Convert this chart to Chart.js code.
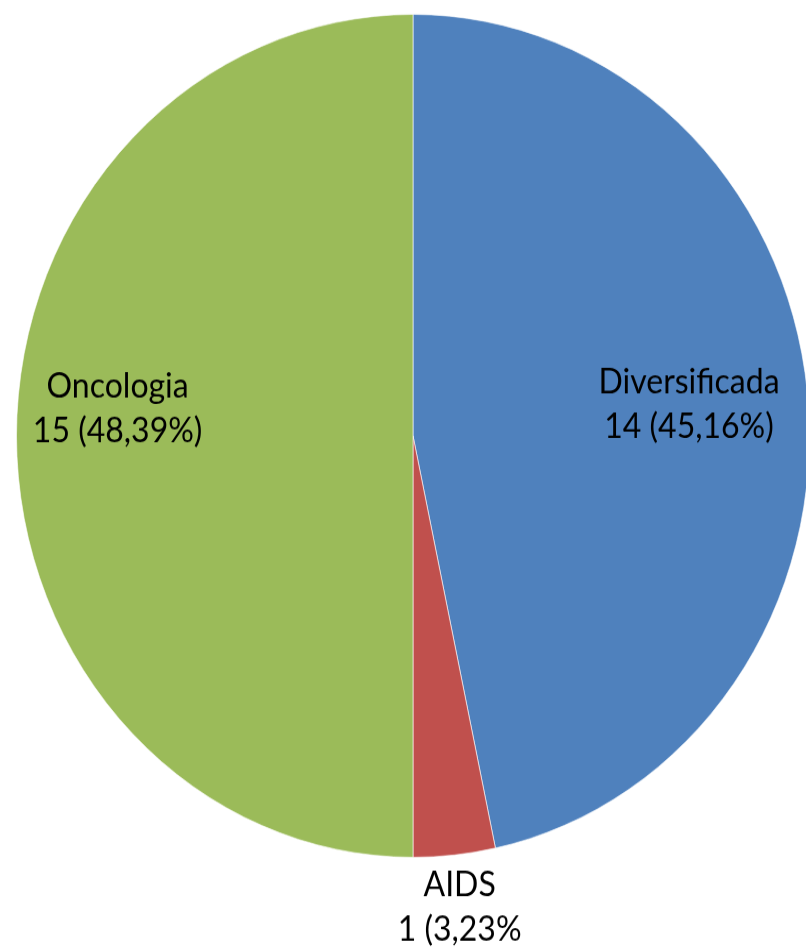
<!DOCTYPE html>
<html>
<head>
<meta charset="utf-8">
<script src="https://cdn.jsdelivr.net/npm/chart.js@4/dist/chart.umd.min.js"></script>
<style>
  html, body { margin: 0; padding: 0; background: #fff; }
  #wrap { width: 806px; height: 950px; overflow: hidden; position: relative; }
  /* the reference pie is slightly taller than wide, so stretch vertically */
  #stage { transform: scaleY(1.063); transform-origin: 0 0; width: 830px; height: 894px; }
</style>
</head>
<body>
<div id="wrap">
  <div id="stage"><canvas id="chart" width="830" height="894"></canvas></div>
</div>
<script>
const categories = ["Diversificada", "AIDS", "Oncologia"]
const counts = [14, 1, 15]
const valueLabels = ["14 (45,16%)", "1 (3,23%", "15 (48,39%)"]
const colors = ["#4F81BD", "#C0504D", "#9BBB59"]

// label placement: fraction of radius along the slice middle, plus a vertical nudge
const labelRadius = [0.70, 1.125, 0.745]
const labelNudge = [0, 0, -25]

const sliceLabels = {
  id: "sliceLabels",
  afterDatasetsDraw(chart) {
    const ctx = chart.ctx
    const arcs = chart.getDatasetMeta(0).data
    ctx.save()
    ctx.font = "32px Lato, 'Noto Sans', sans-serif"
    ctx.fillStyle = "#000"
    ctx.textAlign = "center"
    ctx.textBaseline = "middle"
    arcs.forEach((arc, i) => {
      const mid = (arc.startAngle + arc.endAngle) / 2
      const r = arc.outerRadius * labelRadius[i]
      const x = arc.x + Math.cos(mid) * r
      const y = arc.y + Math.sin(mid) * r + labelNudge[i]
      ctx.fillText(categories[i], x, y - 21)
      ctx.fillText(valueLabels[i], x, y + 21)
    })
    ctx.restore()
  }
}

new Chart(document.getElementById("chart"), {
  type: "pie",
  data: {
    labels: categories,
    datasets: [{
      data: counts,
      backgroundColor: colors,
      borderColor: "rgba(255,255,255,0.6)",
      borderWidth: 1
    }]
  },
  options: {
    responsive: false,
    animation: false,
    layout: { padding: { left: 16, right: 20, top: 13, bottom: 87 } },
    plugins: {
      legend: { display: false },
      tooltip: { enabled: false }
    }
  },
  plugins: [sliceLabels]
})
</script>
</body>
</html>
